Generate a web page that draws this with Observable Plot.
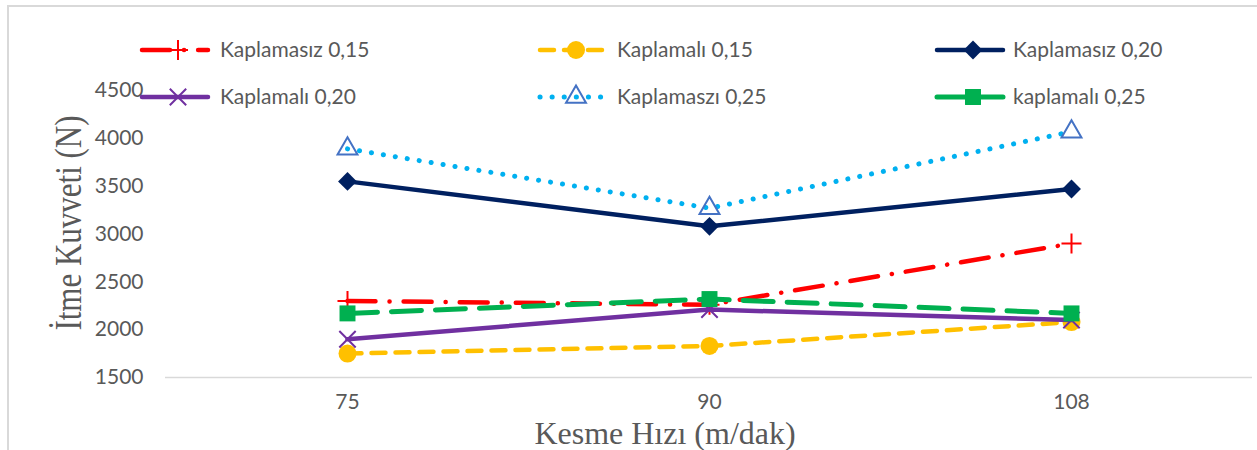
<!DOCTYPE html>
<html><head><meta charset="utf-8">
<script src="https://cdn.jsdelivr.net/npm/d3@7"></script>
<script src="https://cdn.jsdelivr.net/npm/@observablehq/plot@0.6"></script>
<style>
body{margin:0;background:#fff;}
#wrap{position:relative;width:1257px;height:450px;overflow:hidden;}
#frame{position:absolute;left:7px;top:5px;right:-10px;bottom:-10px;border-left:2px solid #d9d9d9;border-top:2px solid #d9d9d9;pointer-events:none;}
</style></head><body>
<div id="wrap"><div id="chart"></div><div id="frame"></div></div>
<script>
// ---- data ----
const speeds = ["75", "90", "108"];
const seriesNames = ["Kaplamasız 0,15", "Kaplamalı 0,15", "Kaplamasız 0,20", "Kaplamalı 0,20", "Kaplamaszı 0,25", "kaplamalı 0,25"];
const kaplamasiz015 = [2300, 2260, 2900];
const kaplamali015 = [1750, 1830, 2080];
const kaplamasiz020 = [3550, 3080, 3470];
const kaplamali020 = [1900, 2210, 2100];
const kaplamasiz025 = [3890, 3270, 4070];
const kaplamali025 = [2170, 2320, 2170];
const yTicks = [1500, 2000, 2500, 3000, 3500, 4000, 4500];
const yTitle = "İtme Kuvveti (N)";
const xTitle = "Kesme Hızı (m/dak)";

const seriesValues = [kaplamasiz015, kaplamali015, kaplamasiz020, kaplamali020, kaplamasiz025, kaplamali025];

// ---- styles ----
const styles = [
  {color: "#FF0000", dash: "28 14 0.1 14", width: 4.5, symbol: "plus", r: 6.5, mFill: "none", mStroke: "#FF0000", mWidth: 2},
  {color: "#FFC000", dash: "14 10", width: 4.5, symbol: "circle", r: 9, mFill: "#FFC000", mStroke: "none", mWidth: 0},
  {color: "#002060", dash: null, width: 4.5, symbol: "diamond2", r: 8.5, mFill: "#002060", mStroke: "none", mWidth: 0},
  {color: "#7030A0", dash: null, width: 4.5, symbol: "times", r: 7.5, mFill: "none", mStroke: "#7030A0", mWidth: 2},
  {color: "#00B0F0", dash: "0.1 12", width: 5, symbol: "triangle2", r: 9.5, mFill: "none", mStroke: "#4472C4", mWidth: 2},
  {color: "#00B050", dash: "30 14", width: 5, symbol: "square", r: 9, mFill: "#00B050", mStroke: "none", mWidth: 0}
];

const marks = [Plot.ruleY([1500], {stroke: "#d9d9d9", strokeWidth: 1.5})];
seriesValues.forEach((vals, i) => {
  const s = styles[i];
  const data = speeds.map((sp, j) => ({speed: sp, value: vals[j]}));
  marks.push(Plot.line(data, {x: "speed", y: "value", stroke: s.color, strokeWidth: s.width,
    strokeDasharray: s.dash || undefined, strokeLinecap: "round", strokeLinejoin: "round"}));
  marks.push(Plot.dot(data, {x: "speed", y: "value", symbol: () => s.symbol, r: s.r,
    fill: s.mFill, stroke: s.mStroke, strokeWidth: s.mWidth}));
});

marks.push(Plot.axisY({ticks: yTicks, tickSize: 0, tickPadding: 22, label: null, tickFormat: d => String(d)}));
marks.push(Plot.axisX({tickSize: 0, tickPadding: 17, label: null}));

const chart = Plot.plot({
  width: 1257, height: 450,
  marginLeft: 165, marginRight: 5, marginTop: 90, marginBottom: 73,
  style: {fontFamily: "Lato", fontSize: "21px", color: "#595959", background: "transparent"},
  x: {type: "point", domain: speeds, padding: 0.5},
  y: {domain: [1500, 4500]},
  marks
});
document.getElementById("chart").appendChild(chart);

// ---- titles and legend ----
const svg = d3.select(chart);
svg.append("text").text(yTitle)
  .attr("transform", "translate(81,223) rotate(-90) scale(1,1.25)")
  .attr("text-anchor", "middle")
  .attr("font-family", "Liberation Serif, Times New Roman, serif")
  .attr("font-size", 31).attr("fill", "#595959");
svg.append("text").text(xTitle)
  .attr("transform", "translate(665,444)")
  .attr("text-anchor", "middle")
  .attr("font-family", "Liberation Serif, Times New Roman, serif")
  .attr("font-size", 32).attr("fill", "#595959");

const symMap = {plus: d3.symbolPlus, circle: d3.symbolCircle, diamond2: d3.symbolDiamond2,
  times: d3.symbolTimes, triangle2: d3.symbolTriangle2, square: d3.symbolSquare};
const colX = [142, 540, 937], textX = [220, 617, 1013], rowY = [50, 97];
const lg = svg.append("g");
seriesNames.forEach((name, i) => {
  const s = styles[i];
  const c = i % 3, rw = Math.floor(i / 3);
  const x0 = colX[c], y0 = rowY[rw];
  const ln = lg.append("line").attr("x1", x0).attr("x2", x0 + 66).attr("y1", y0).attr("y2", y0)
    .attr("stroke", s.color).attr("stroke-width", s.width).attr("stroke-linecap", "round");
  if (s.dash) ln.attr("stroke-dasharray", s.dash);
  lg.append("path").attr("d", d3.symbol(symMap[s.symbol], Math.PI * s.r * s.r)())
    .attr("transform", `translate(${x0 + 36},${y0})`)
    .attr("fill", s.mFill).attr("stroke", s.mStroke).attr("stroke-width", s.mWidth);
  lg.append("text").text(name).attr("x", textX[c]).attr("y", y0).attr("dy", "0.35em")
    .attr("text-anchor", "start")
    .attr("font-family", "Lato").attr("font-size", 21).attr("fill", "#595959");
});
</script>
</body></html>
